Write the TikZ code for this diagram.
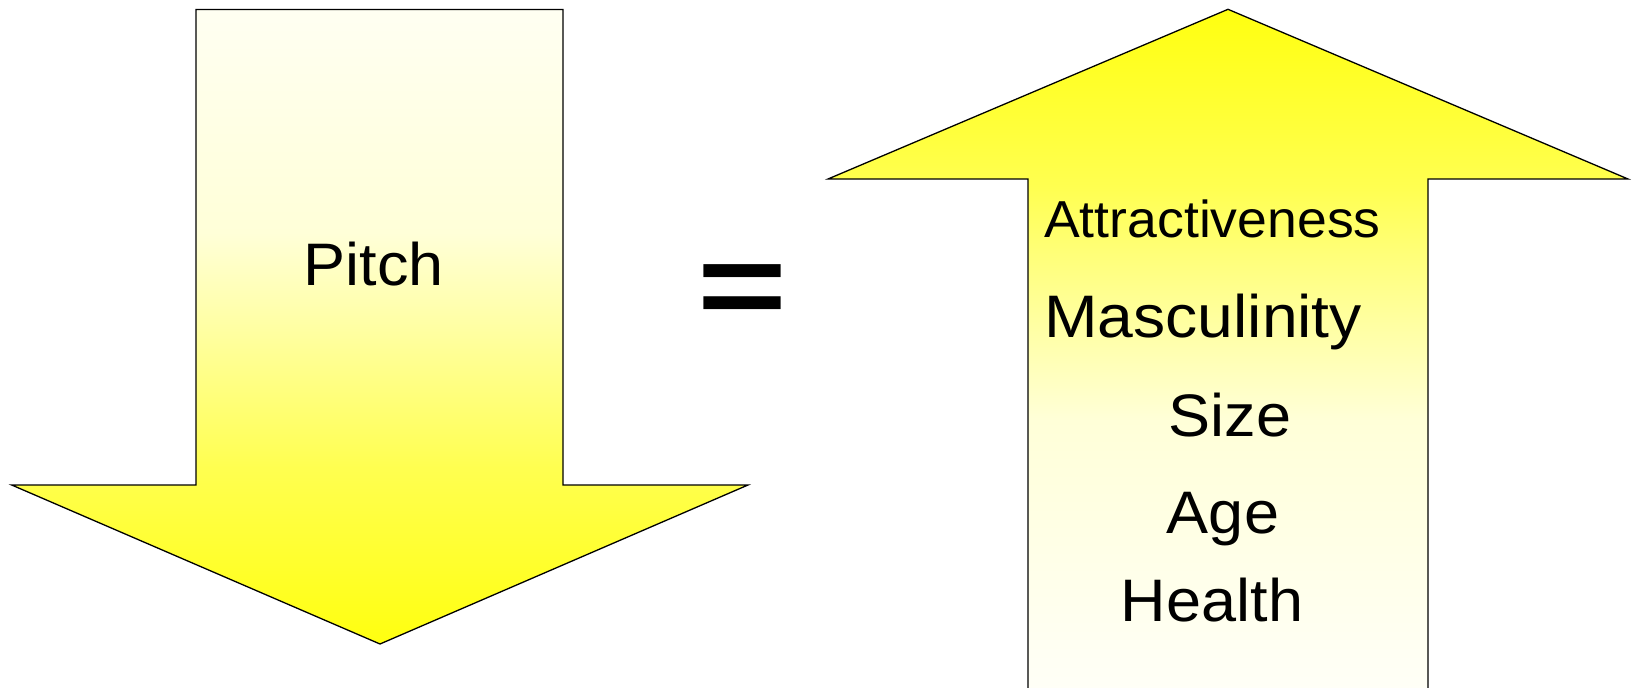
\documentclass[tikz,border=0pt]{standalone}
\usepackage{fontspec}
\setmainfont{Liberation Sans}
\pgfdeclareverticalshading{leftshade}{100bp}{%
  rgb(0bp)=(1,1,0.063); rgb(25bp)=(1,1,0.063); rgb(28.5bp)=(1,1,0.125);
  rgb(38.9bp)=(1,1,0.314); rgb(49.5bp)=(1,1,0.627); rgb(57.4bp)=(1,1,0.847);
  rgb(75bp)=(1,1,0.949); rgb(100bp)=(1,1,0.949)}
\pgfdeclareverticalshading{rightshade}{100bp}{%
  rgb(0bp)=(1,1,0.973); rgb(25bp)=(1,1,0.973); rgb(29.05bp)=(1,1,0.949);
  rgb(45.27bp)=(1,1,0.847); rgb(52.5bp)=(1,1,0.627); rgb(62.2bp)=(1,1,0.314);
  rgb(75bp)=(1,1,0.063); rgb(100bp)=(1,1,0.063)}
\begin{document}
\begin{tikzpicture}[x=1pt,y=-1pt,
  arrowshape/.style={draw=black, line width=1.3pt, line join=miter},
  bigtxt/.style={font=\fontsize{60}{72}\selectfont, xscale=1.05, anchor=base, inner sep=0pt},
  smalltxt/.style={font=\fontsize{52}{62}\selectfont, xscale=1.03, anchor=base west, inner sep=0pt}]
\useasboundingbox (0,0) rectangle (1633,688);
% left arrow (down)
\path[arrowshape, shading=leftshade]
  (196,9.5) -- (563,9.5) -- (563,485) -- (748,485) -- (380,644) -- (11.7,485) -- (196,485) -- cycle;
% right arrow (up)
\begin{scope}
\clip (0,0) rectangle (1633,688);
\path[arrowshape, shading=rightshade]
  (1228,9.3) -- (1628,179) -- (1428,179) -- (1428,700) -- (1028,700) -- (1028,179) -- (828,179) -- cycle;
\end{scope}
\node[bigtxt] (pitch) at (374,285) {Pitch};
\node[font=\bfseries\fontsize{140}{160}\selectfont, inner sep=0pt, xscale=1.1, yscale=0.85] (eq) at (742,296) {=};
\node[smalltxt] (attr) at (1044,237) {Attractiveness};
\node[bigtxt, anchor=base west, xscale=1.02] (masc) at (1044,337) {Masculinity};
\node[bigtxt] (size) at (1230,436) {Size};
\node[bigtxt] (age) at (1223,533) {Age};
\node[bigtxt] (health) at (1212,621) {Health};
\end{tikzpicture}
\end{document}
